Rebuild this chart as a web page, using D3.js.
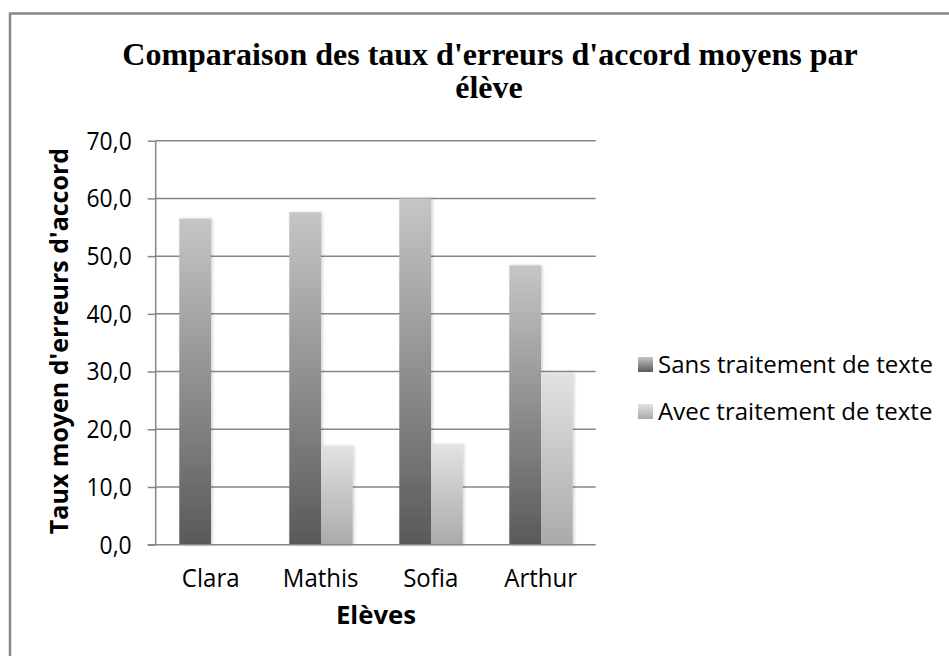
<!DOCTYPE html>
<html>
<head>
<meta charset="utf-8">
<script src="https://cdn.jsdelivr.net/npm/d3@7"></script>
<style>
  body { margin: 0; background: #fff; }
  text { fill: #000; }
</style>
</head>
<body>
<div id="chart"></div>
<script>
// data
const eleves = ["Clara", "Mathis", "Sofia", "Arthur"];
const series = ["Sans traitement de texte", "Avec traitement de texte"];
const sansTraitement = [56.5, 57.6, 60.0, 48.4];
const avecTraitement = [0, 17.1, 17.4, 29.8];
const yTicks = [0, 10, 20, 30, 40, 50, 60, 70];

const W = 949, H = 656;
const margin = {top: 140.7, left: 155.7, width: 440, height: 404};
const sans = "'Open Sans', sans-serif";

// narrow the text a bit, the original font is a condensed one
function squeeze(sel, k) {
    sel.each(function() {
        let len = this.getComputedTextLength();
        d3.select(this)
            .attr("textLength", len * k)
            .attr("lengthAdjust", "spacingAndGlyphs");
    });
}

let svg = d3.select("#chart").append("svg")
    .attr("width", W)
    .attr("height", H);

// gradients per bar (top light -> bottom dark)
let defs = svg.append("defs");
let grads = [
    {id: "gSans", top: "#c6c6c6", bottom: "#595959"},
    {id: "gAvec", top: "#e2e2e2", bottom: "#aaaaaa"}
];
grads.forEach(g => {
    let lg = defs.append("linearGradient")
        .attr("id", g.id)
        .attr("x1", 0).attr("y1", 0).attr("x2", 0).attr("y2", 1);
    lg.append("stop").attr("offset", "0%").attr("stop-color", g.top);
    lg.append("stop").attr("offset", "100%").attr("stop-color", g.bottom);
});
defs.append("filter").attr("id", "shadow")
    .attr("x", "-20%").attr("y", "-5%").attr("width", "140%").attr("height", "110%")
    .append("feDropShadow")
    .attr("dx", 1.5).attr("dy", 0).attr("stdDeviation", 1.5)
    .attr("flood-color", "#000").attr("flood-opacity", 0.18);

// outer frame (cropped on right and bottom)
svg.append("path")
    .attr("d", `M10,${H} L10,13.5 L${W},13.5`)
    .attr("fill", "none")
    .attr("stroke", "#868686")
    .attr("stroke-width", 2.5);

// title
let title = svg.append("text")
    .attr("text-anchor", "middle")
    .style("font-family", "'Liberation Serif', 'Times New Roman', serif")
    .style("font-weight", "bold")
    .style("font-size", "32px");
title.append("tspan").attr("x", 490).attr("y", 65)
    .text("Comparaison des taux d'erreurs d'accord moyens par");
title.append("tspan").attr("x", 489).attr("y", 98)
    .text("élève");

let g = svg.append("g")
    .attr("transform", `translate(${margin.left},${margin.top})`);

let x = d3.scaleBand()
    .domain(eleves)
    .range([0, margin.width])
    .padding(0);

let inner = d3.scaleBand()
    .domain(series)
    .range([23.6, 87])
    .padding(0);

let y = d3.scaleLinear()
    .domain([0, 70])
    .range([margin.height, 0]);

// gridlines
g.append("g")
    .selectAll("line")
    .data(yTicks.filter(d => d > 0))
    .join("line")
    .attr("x1", 0).attr("x2", margin.width)
    .attr("y1", d => y(d)).attr("y2", d => y(d))
    .attr("stroke", "#868686")
    .attr("stroke-width", 1.5);

// y axis
let yAxis = d3.axisLeft(y)
    .tickValues(yTicks)
    .tickSize(8)
    .tickPadding(16)
    .tickFormat(d => d.toFixed(1).replace(".", ","));
let ya = g.append("g").call(yAxis);
ya.select(".domain").attr("stroke", "#868686").attr("stroke-width", 1.5)
    .attr("d", `M0,0V${margin.height}`);
ya.selectAll(".tick line").attr("stroke", "#868686").attr("stroke-width", 1.5);
ya.selectAll(".tick text")
    .style("font-family", sans)
    .style("font-size", "26px")
    .attr("fill", "#000")
    .call(squeeze, 0.88);

// bars
let rows = eleves.map((e, i) => ({
    eleve: e,
    vals: [
        {s: series[0], v: sansTraitement[i], grad: "gSans"},
        {s: series[1], v: avecTraitement[i], grad: "gAvec"}
    ]
}));

g.append("g")
    .selectAll("g")
    .data(rows)
    .join("g")
    .attr("transform", d => `translate(${x(d.eleve)},0)`)
    .selectAll("rect")
    .data(d => d.vals.filter(p => p.v > 0))
    .join("rect")
    .attr("x", d => inner(d.s))
    .attr("width", inner.bandwidth())
    .attr("y", d => y(d.v))
    .attr("height", d => y(0) - y(d.v))
    .attr("fill", d => `url(#${d.grad})`)
    .attr("filter", "url(#shadow)");

// x axis
let xAxis = d3.axisBottom(x).tickSize(0).tickPadding(20);
let xa = g.append("g")
    .attr("transform", `translate(0,${margin.height})`)
    .call(xAxis);
xa.select(".domain").attr("stroke", "#868686").attr("stroke-width", 1.5)
    .attr("d", `M-8,0H${margin.width}`);
xa.selectAll(".tick text")
    .attr("dy", null)
    .attr("y", 42.5)
    .style("font-family", sans)
    .style("font-size", "25px")
    .attr("fill", "#000")
    .call(squeeze, 0.96);

// axis titles
svg.append("text")
    .attr("text-anchor", "middle")
    .attr("x", 376).attr("y", 624)
    .style("font-family", sans)
    .style("font-weight", "bold")
    .style("font-size", "25px")
    .text("Elèves")
    .call(squeeze, 1.03);

svg.append("text")
    .attr("text-anchor", "middle")
    .attr("transform", "translate(68,341) rotate(-90)")
    .style("font-family", sans)
    .style("font-weight", "bold")
    .style("font-size", "25px")
    .text("Taux moyen d'erreurs d'accord")
    .call(squeeze, 1);

// legend
let legend = svg.append("g")
    .selectAll("g")
    .data(series)
    .join("g")
    .attr("transform", (d, i) => `translate(638,${357 + i * 47})`);
legend.append("rect")
    .attr("width", 15).attr("height", 15)
    .attr("fill", (d, i) => `url(#${grads[i].id})`);
legend.append("text")
    .attr("x", 20).attr("y", 16)
    .style("font-family", sans)
    .style("font-size", "24px")
    .text(d => d);
</script>
</body>
</html>
